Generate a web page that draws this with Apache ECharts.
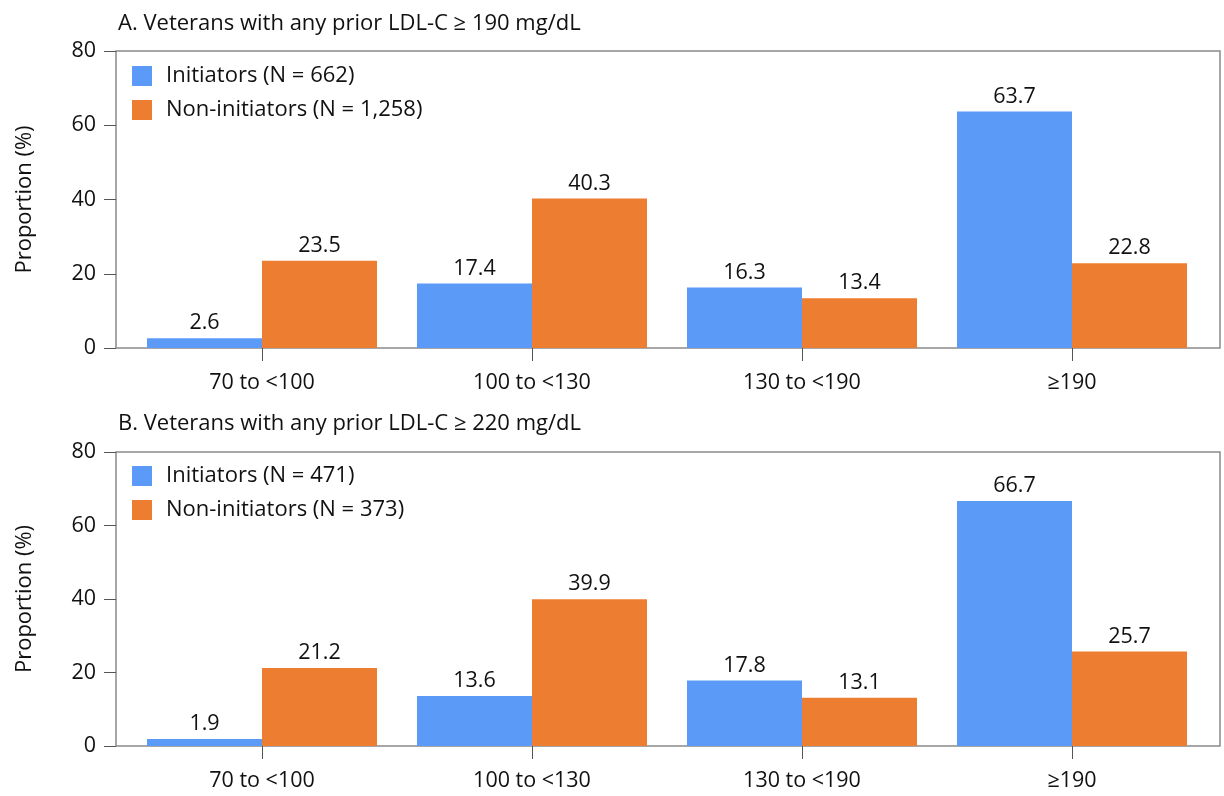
<!DOCTYPE html>
<html><head><meta charset="utf-8">
<script src="https://cdn.jsdelivr.net/npm/echarts@6/dist/echarts.min.js"></script>
<style>html,body{margin:0;padding:0;background:#fff}#c{width:1224px;height:796px}</style>
</head><body><div id="c"></div>
<script>
const categories = ['70 to <100', '100 to <130', '130 to <190', '\u2265190'];
const titleA = 'A. Veterans with any prior LDL-C \u2265 190 mg/dL';
const titleB = 'B. Veterans with any prior LDL-C \u2265 220 mg/dL';
const namesA = ['Initiators (N = 662)', 'Non-initiators (N = 1,258)'];
const namesB = ['Initiators (N = 471)', 'Non-initiators (N = 373)'];
const initiatorsA = [2.6, 17.4, 16.3, 63.7];
const nonInitiatorsA = [23.5, 40.3, 13.4, 22.8];
const initiatorsB = [1.9, 13.6, 17.8, 66.7];
const nonInitiatorsB = [21.2, 39.9, 13.1, 25.7];
const yTicks = [0, 20, 40, 60, 80];

const FONT = 'Open Sans';
const BLUE = '#5B9BF7';
const ORANGE = '#ED7D31';
const GRAY = '#8a8a8a';

const panels = [
  {top: 51, height: 297, title: titleA, names: namesA, d1: initiatorsA, d2: nonInitiatorsA, titleTop: 8, legendTop: 60},
  {top: 452, height: 294, title: titleB, names: namesB, d1: initiatorsB, d2: nonInitiatorsB, titleTop: 408, legendTop: 460}
];

const grid = [], xAxis = [], yAxis = [], series = [], title = [], legend = [];
panels.forEach((p, i) => {
  const gFrame = i * 2, gBars = i * 2 + 1;
  grid.push({left: 116, width: 1104, top: p.top, height: p.height, show: true, borderColor: GRAY, borderWidth: 1.5, backgroundColor: 'transparent'});
  grid.push({left: 127, width: 1080, top: p.top, height: p.height});
  title.push({text: p.title, left: 113, top: p.titleTop, textStyle: {fontFamily: FONT, fontSize: 22, fontWeight: 'normal', color: '#111'}});
  legend.push({data: p.names, orient: 'vertical', left: 127, top: p.legendTop, itemWidth: 20, itemHeight: 20, itemGap: 12, icon: 'rect',
    textStyle: {fontFamily: FONT, fontSize: 22, color: '#111', padding: [0, 0, 0, 9]}});
  xAxis.push({gridIndex: gFrame, type: 'value', min: 0, max: 1, show: false});
  xAxis.push({gridIndex: gBars, type: 'category', data: categories,
    axisLine: {show: false}, axisTick: {show: true, alignWithLabel: true, length: 13, lineStyle: {color: '#555'}},
    axisLabel: {fontFamily: FONT, fontSize: 21.5, color: '#111', margin: 24}});
  yAxis.push({gridIndex: gFrame, type: 'value', min: yTicks[0], max: yTicks[yTicks.length - 1], interval: 20,
    axisLine: {show: false}, splitLine: {show: false},
    axisTick: {show: true, length: 12, lineStyle: {color: '#555'}},
    axisLabel: {fontFamily: FONT, fontSize: 21.5, color: '#111', margin: 20},
    name: 'Proportion (%)', nameLocation: 'middle', nameGap: 80, nameRotate: 90,
    nameTextStyle: {fontFamily: FONT, fontSize: 22, color: '#111'}});
  yAxis.push({gridIndex: gBars, type: 'value', min: 0, max: 80, show: false});
  const lbl = {show: true, position: 'top', distance: 4, fontFamily: FONT, fontSize: 21.5, color: '#111', formatter: v => v.value.toFixed(1)};
  series.push({name: p.names[0], type: 'bar', xAxisIndex: gBars, yAxisIndex: gBars, data: p.d1, barWidth: 115, barGap: '0%', itemStyle: {color: BLUE}, label: lbl});
  series.push({name: p.names[1], type: 'bar', xAxisIndex: gBars, yAxisIndex: gBars, data: p.d2, barWidth: 115, barGap: '0%', itemStyle: {color: ORANGE}, label: lbl});
});

const chart = echarts.init(document.getElementById('c'));
chart.setOption({animation: false, backgroundColor: '#fff', title, legend, grid, xAxis, yAxis, series});
</script></body></html>
